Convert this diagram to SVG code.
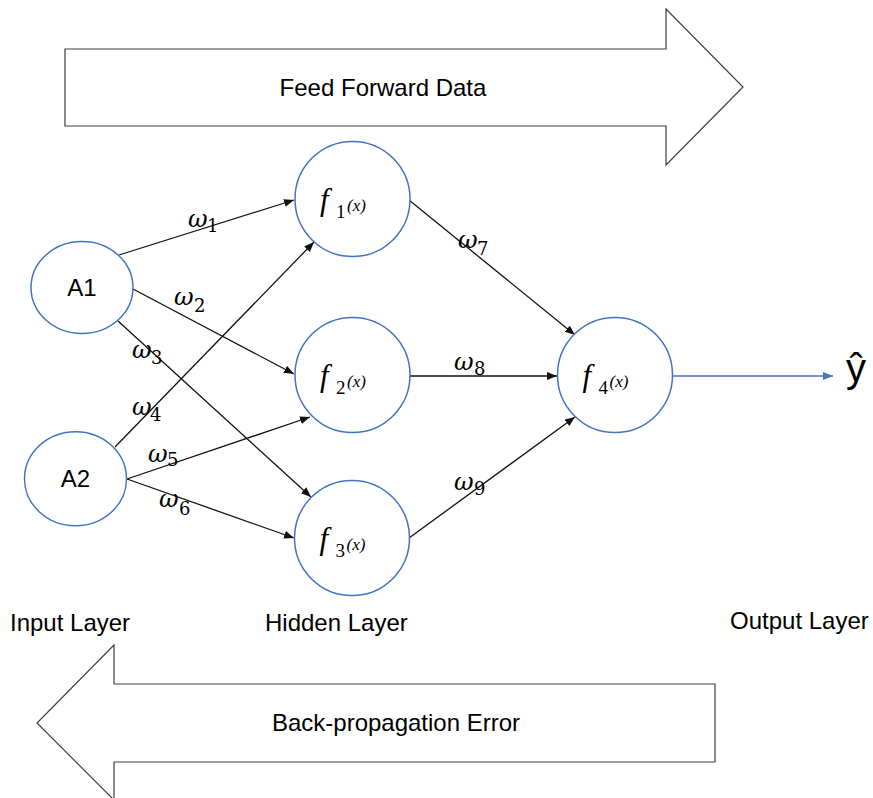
<svg xmlns="http://www.w3.org/2000/svg" width="873" height="798" viewBox="0 0 873 798">
<style>
.bg{fill:#fff}
.bigarrow{fill:#fff;stroke:#404040;stroke-width:1.2}
.node{fill:#fff;stroke:#4472C4;stroke-width:1.5}
.lbl{font-family:"Liberation Sans",Arial,sans-serif;font-size:24px;fill:#000}
.edge{stroke:#111;stroke-width:1.3;fill:none;marker-end:url(#ah)}
.out{stroke:#4472C4;stroke-width:1.3;fill:none;marker-end:url(#ahb)}
.w{font-family:"DejaVu Serif",serif;font-style:italic;font-size:24px;fill:#000}
.ws{font-family:"DejaVu Serif",serif;font-style:normal;font-size:18px}
.f{font-family:"Liberation Serif",serif;font-style:italic;font-size:31px;fill:#000}
.fs{font-family:"Liberation Serif",serif;font-style:normal;font-size:19px;fill:#000}
.fx{font-family:"Liberation Serif",serif;font-style:italic;font-size:17px;fill:#000}
</style>
<defs>
<marker id="ah" markerUnits="userSpaceOnUse" markerWidth="11" markerHeight="9" refX="10" refY="4" orient="auto">
<path d="M0,0 L10,4 L0,8 z" fill="#111"/>
</marker>
<marker id="ahb" markerUnits="userSpaceOnUse" markerWidth="11" markerHeight="9" refX="10" refY="4" orient="auto">
<path d="M0,0 L10,4 L0,8 z" fill="#4472C4"/>
</marker>
</defs>
<rect class="bg" x="0" y="0" width="873" height="798"/>

<g id="feed-forward">
<path class="bigarrow" d="M65,49 L666,49 L666,9 L743,87 L666,165 L666,126 L65,126 Z"/>
<text class="lbl" x="383" y="96" text-anchor="middle">Feed Forward Data</text>
</g>

<g id="back-propagation">
<path class="bigarrow" d="M715,684 L114,684 L114,645 L37,723 L114,800 L114,762 L715,762 Z"/>
<text class="lbl" x="396" y="731" text-anchor="middle">Back-propagation Error</text>
</g>

<g id="connectors">
<line class="edge" x1="119" y1="255" x2="294" y2="200"/>
<line class="edge" x1="133" y1="289" x2="294" y2="374"/>
<line class="edge" x1="118" y1="321" x2="311" y2="497"/>
<line class="edge" x1="115" y1="447" x2="314" y2="242"/>
<line class="edge" x1="127" y1="479" x2="310" y2="417"/>
<line class="edge" x1="127" y1="479" x2="294" y2="538"/>
<line class="edge" x1="409" y1="200" x2="575" y2="335"/>
<line class="edge" x1="409" y1="376" x2="557" y2="376"/>
<line class="edge" x1="409" y1="538" x2="575" y2="417"/>
<line class="out" x1="672" y1="376" x2="833" y2="376"/>
<text class="w" x="188" y="227">ω<tspan class="ws" x="207" y="232">1</tspan></text>
<text class="w" x="174" y="305">ω<tspan class="ws" x="194" y="312">2</tspan></text>
<text class="w" x="132" y="358">ω<tspan class="ws" x="151" y="364">3</tspan></text>
<text class="w" x="132" y="415">ω<tspan class="ws" x="150" y="421">4</tspan></text>
<text class="w" x="148" y="462">ω<tspan class="ws" x="167" y="466">5</tspan></text>
<text class="w" x="159" y="507">ω<tspan class="ws" x="179" y="515">6</tspan></text>
<text class="w" x="458" y="248">ω<tspan class="ws" x="477" y="255">7</tspan></text>
<text class="w" x="454" y="370">ω<tspan class="ws" x="474" y="375">8</tspan></text>
<text class="w" x="454" y="490">ω<tspan class="ws" x="474" y="495">9</tspan></text>
</g>

<g id="A1">
<ellipse class="node" cx="82" cy="287.5" rx="51" ry="46"/>
<text class="lbl" x="82" y="296" text-anchor="middle">A1</text>
</g>
<g id="A2">
<ellipse class="node" cx="75.5" cy="478.7" rx="51" ry="47"/>
<text class="lbl" x="75.5" y="487" text-anchor="middle">A2</text>
</g>

<g id="f1">
<circle class="node" cx="352.5" cy="199" r="57.5"/>
<text class="f" x="320" y="210">f</text>
<text class="fs" x="336" y="218">1</text>
<text class="fx" x="347" y="211">(x)</text>
</g>
<g id="f2">
<circle class="node" cx="352.5" cy="375" r="57.5"/>
<text class="f" x="320" y="386">f</text>
<text class="fs" x="336" y="394">2</text>
<text class="fx" x="347" y="387">(x)</text>
</g>
<g id="f3">
<circle class="node" cx="352" cy="538" r="57.5"/>
<text class="f" x="319.5" y="549">f</text>
<text class="fs" x="335.5" y="557">3</text>
<text class="fx" x="346.5" y="550">(x)</text>
</g>
<g id="f4">
<circle class="node" cx="615" cy="375" r="57.5"/>
<text class="f" x="582.5" y="386">f</text>
<text class="fs" x="598.5" y="394">4</text>
<text class="fx" x="609.5" y="387">(x)</text>
</g>

<g id="y-hat">
<text class="lbl" x="846" y="382" style="font-size:40px">ŷ</text>
</g>

<g id="layer-labels">
<text class="lbl" x="10" y="631">Input Layer</text>
<text class="lbl" x="265" y="631">Hidden Layer</text>
<text class="lbl" x="730" y="629">Output Layer</text>
</g>
</svg>
